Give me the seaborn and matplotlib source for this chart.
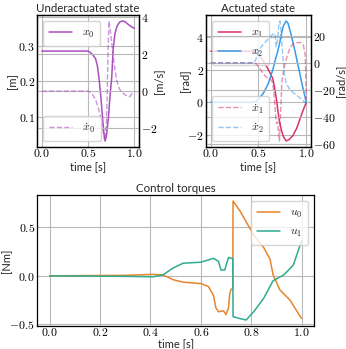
import numpy as np
import pandas as pd
import matplotlib
matplotlib.use("Agg")
import matplotlib.pyplot as plt
import seaborn as sns
from matplotlib.ticker import FuncFormatter, MultipleLocator

# ---------------- data ----------------
t_x0 = [0.0, 0.5, 0.52, 0.55, 0.58, 0.6, 0.62, 0.64, 0.66, 0.675, 0.685, 0.70, 0.72, 0.74,
        0.755, 0.77, 0.79, 0.81, 0.84, 0.87, 0.9, 0.93, 0.96, 1.0]
x0 = [0.286, 0.286, 0.283, 0.276, 0.265, 0.245, 0.205, 0.15, 0.085, 0.045, 0.032, 0.05, 0.10, 0.17,
      0.21, 0.29, 0.335, 0.355, 0.368, 0.371, 0.369, 0.362, 0.356, 0.35]

t_dx0 = [0.0, 0.5, 0.52, 0.55, 0.58, 0.61, 0.64, 0.66, 0.68, 0.695, 0.705, 0.715, 0.725, 0.74,
         0.76, 0.78, 0.81, 0.84, 0.87, 0.9, 0.93, 0.95, 0.97, 1.0]
dx0 = [0.0, 0.0, -0.05, -0.2, -0.45, -0.9, -1.5, -2.1, -2.7, -2.0, -0.5, 2.0, 3.8, 3.3,
       2.4, 1.5, 0.55, 0.1, -0.08, -0.2, -0.3, -0.3, -0.15, -0.05]

t_x1 = [0.0, 0.45, 0.5, 0.55, 0.6, 0.65, 0.67, 0.69, 0.705, 0.72, 0.74, 0.76, 0.79, 0.82,
        0.86, 0.9, 0.93, 0.96, 1.0]
x1 = [3.14, 3.14, 2.95, 2.55, 2.05, 1.45, 0.85, 0.1, -0.6, -1.2, -1.7, -2.1, -2.38, -2.3,
      -2.05, -1.6, -1.1, -0.6, 0.0]

t_x2 = [0.0, 0.45, 0.48, 0.5, 0.55, 0.6, 0.65, 0.68, 0.7, 0.72, 0.74, 0.76, 0.79, 0.81,
        0.84, 0.88, 0.92, 0.96, 1.0]
x2 = [0.0, 0.0, 0.08, 0.2, 0.55, 1.1, 2.0, 2.7, 3.1, 3.6, 4.2, 4.7, 5.0, 4.85,
      4.2, 3.2, 2.1, 1.0, 0.0]

t_dx1 = [0.0, 0.45, 0.48, 0.5, 0.53, 0.57, 0.6, 0.63, 0.65, 0.665, 0.68, 0.69, 0.70, 0.71,
         0.72, 0.73, 0.745, 0.77, 0.8, 0.83, 0.86, 0.9, 0.94, 0.97, 0.99, 1.0]
dx1 = [0.0, 0.0, -1.0, -3.0, -6.0, -10.0, -11.5, -12.5, -15.0, -25.0, -40.0, -45.0, -44.0, -52.0,
       -58.0, -40.0, -14.0, -3.0, 5.0, 11.0, 14.0, 15.0, 15.0, 13.0, 5.0, -27.0]

t_dx2 = [0.0, 0.45, 0.47, 0.5, 0.53, 0.58, 0.62, 0.66, 0.675, 0.685, 0.7, 0.715, 0.725, 0.735,
         0.75, 0.77, 0.79, 0.82, 0.86, 0.9, 0.95, 1.0]
dx2 = [0.0, 0.0, 2.0, 8.0, 12.0, 16.0, 19.0, 22.0, 20.0, 12.0, 17.0, 30.0, 31.0, 25.0,
       10.0, -8.0, -15.0, -19.0, -22.0, -24.0, -27.0, -30.0]

t_u0 = [0.0, 0.3, 0.41, 0.45, 0.49, 0.53, 0.6, 0.63, 0.65, 0.66, 0.67, 0.69, 0.70, 0.71,
        0.715, 0.72, 0.727, 0.728, 0.755, 0.81, 0.85, 0.875, 0.887, 0.914, 0.954, 1.0]
u0 = [0.0, 0.005, 0.015, 0.01, -0.04, -0.065, -0.08, -0.11, -0.2, -0.33, -0.37, -0.36, -0.40, -0.33,
      -0.18, -0.14, -0.13, 0.77, 0.67, 0.42, 0.29, 0.17, 0.01, -0.145, -0.25, -0.44]

t_u1 = [0.0, 0.3, 0.41, 0.45, 0.49, 0.53, 0.6, 0.65, 0.67, 0.68, 0.695, 0.71, 0.72, 0.727,
        0.728, 0.755, 0.78, 0.81, 0.85, 0.887, 0.93, 0.967, 1.0]
u1 = [0.0, -0.005, -0.01, 0.01, 0.08, 0.13, 0.14, 0.18, 0.15, 0.06, 0.06, 0.19, 0.18, 0.18,
      -0.42, -0.44, -0.455, -0.37, -0.23, -0.05, 0.01, 0.11, 0.36]

time_ticks_top = [0.0, 0.5, 1.0]

# ---------------- style ----------------
sns.set_style("ticks")
plt.rcParams.update({
    "mathtext.fontset": "cm",
    "font.family": ["Lato", "DejaVu Sans"],
    "axes.edgecolor": "black",
    "axes.linewidth": 0.9,
    "grid.color": "#b8b8b8",
    "grid.linewidth": 0.8,
    "xtick.major.size": 0,
    "ytick.major.size": 0,
    "xtick.color": "black",
    "ytick.color": "black",
})

C_X0 = "#a94fc0"
C_X1 = "#d6336e"
C_X2 = "#3a9ae6"
C_U0 = "#e8852c"
C_U1 = "#2fab8f"

TICK_FS = 8.5
LAB_FS = 8
TITLE_FS = 8.3
LEG_FS = 8.5

fmt1 = FuncFormatter(lambda v, p: f"${v:.1f}$")
fmtg = FuncFormatter(lambda v, p: f"${v:g}$")

fig = plt.figure(figsize=(3.46, 3.49), dpi=100)
ax_a = fig.add_axes([0.107, 0.579, 0.295, 0.378])
ax_b = fig.add_axes([0.595, 0.579, 0.304, 0.378])
ax_c = fig.add_axes([0.107, 0.066, 0.801, 0.375])


def style_ax(ax, xfmt, yfmt):
    ax.grid(True)
    ax.xaxis.set_major_formatter(xfmt)
    ax.yaxis.set_major_formatter(yfmt)
    ax.tick_params(axis="y", labelsize=TICK_FS, pad=1.5)
    ax.tick_params(axis="x", labelsize=TICK_FS, pad=0)


# ---- Underactuated state ----
sns.lineplot(x=t_x0, y=x0, ax=ax_a, color=C_X0, lw=1.1, label=r"$x_0$", legend=False)
ax_a2 = ax_a.twinx()
sns.lineplot(x=t_dx0, y=dx0, ax=ax_a2, color=C_X0, lw=1.0, alpha=0.6, linestyle="--",
             label=r"$\dot{x}_0$", legend=False)
for a in (ax_a, ax_a2):
    a.set_xlim(-0.05, 1.05)
    a.set_xticks(time_ticks_top)
ax_a.yaxis.set_major_locator(MultipleLocator(0.1))
ax_a2.yaxis.set_major_locator(MultipleLocator(2))
style_ax(ax_a, fmt1, fmt1)
style_ax(ax_a2, fmt1, fmtg)
ax_a.set_title("Underactuated state", fontsize=TITLE_FS, pad=2)
ax_a.set_xlabel("time [s]", fontsize=LAB_FS)
ax_a.set_ylabel("[m]", fontsize=LAB_FS)
ax_a2.set_ylabel("[m/s]", fontsize=LAB_FS)
ax_a.xaxis.set_label_coords(0.5, -0.11)
ax_a.yaxis.set_label_coords(-0.19, 0.5)
ax_a2.yaxis.set_label_coords(1.14, 0.5)
ax_a.legend(loc="upper left", fontsize=LEG_FS, handlelength=2.0, borderpad=0.5)
ax_a2.legend(loc="lower left", fontsize=LEG_FS, handlelength=2.0, borderpad=0.5)

# ---- Actuated state ----
sns.lineplot(x=t_x1, y=x1, ax=ax_b, color=C_X1, lw=1.1, label=r"$x_1$", legend=False)
sns.lineplot(x=t_x2, y=x2, ax=ax_b, color=C_X2, lw=1.1, label=r"$x_2$", legend=False)
ax_b2 = ax_b.twinx()
sns.lineplot(x=t_dx1, y=dx1, ax=ax_b2, color=C_X1, lw=1.0, alpha=0.55, linestyle="--",
             label=r"$\dot{x}_1$", legend=False)
sns.lineplot(x=t_dx2, y=dx2, ax=ax_b2, color=C_X2, lw=1.0, alpha=0.55, linestyle="--",
             label=r"$\dot{x}_2$", legend=False)
for a in (ax_b, ax_b2):
    a.set_xlim(-0.05, 1.05)
    a.set_xticks(time_ticks_top)
ax_b.yaxis.set_major_locator(MultipleLocator(2))
ax_b2.yaxis.set_major_locator(MultipleLocator(20))
style_ax(ax_b, fmt1, fmtg)
style_ax(ax_b2, fmt1, fmtg)
ax_b.set_title("Actuated state", fontsize=TITLE_FS, pad=2)
ax_b.set_xlabel("time [s]", fontsize=LAB_FS)
ax_b.set_ylabel("[rad]", fontsize=LAB_FS)
ax_b2.set_ylabel("[rad/s]", fontsize=LAB_FS)
ax_b.xaxis.set_label_coords(0.5, -0.11)
ax_b.yaxis.set_label_coords(-0.15, 0.5)
ax_b2.yaxis.set_label_coords(1.225, 0.5)
ax_b.legend(loc="upper left", fontsize=LEG_FS, handlelength=2.0, borderpad=0.5)
ax_b2.legend(loc="lower left", fontsize=LEG_FS, handlelength=2.0, borderpad=0.5)

# ---- Control torques ----
sns.lineplot(x=t_u0, y=u0, ax=ax_c, color=C_U0, lw=1.1, label=r"$u_0$", legend=False)
sns.lineplot(x=t_u1, y=u1, ax=ax_c, color=C_U1, lw=1.1, label=r"$u_1$", legend=False)
ax_c.set_xlim(-0.05, 1.05)
ax_c.xaxis.set_major_locator(MultipleLocator(0.2))
ax_c.yaxis.set_major_locator(MultipleLocator(0.5))
style_ax(ax_c, fmt1, fmt1)
ax_c.set_title("Control torques", fontsize=TITLE_FS, pad=2)
ax_c.set_xlabel("time [s]", fontsize=LAB_FS)
ax_c.set_ylabel("[Nm]", fontsize=LAB_FS)
ax_c.xaxis.set_label_coords(0.5, -0.095)
ax_c.yaxis.set_label_coords(-0.09, 0.5)
ax_c.legend(loc="upper right", fontsize=LEG_FS, handlelength=2.0, borderpad=0.5)

fig.savefig("out.png", dpi=100)
